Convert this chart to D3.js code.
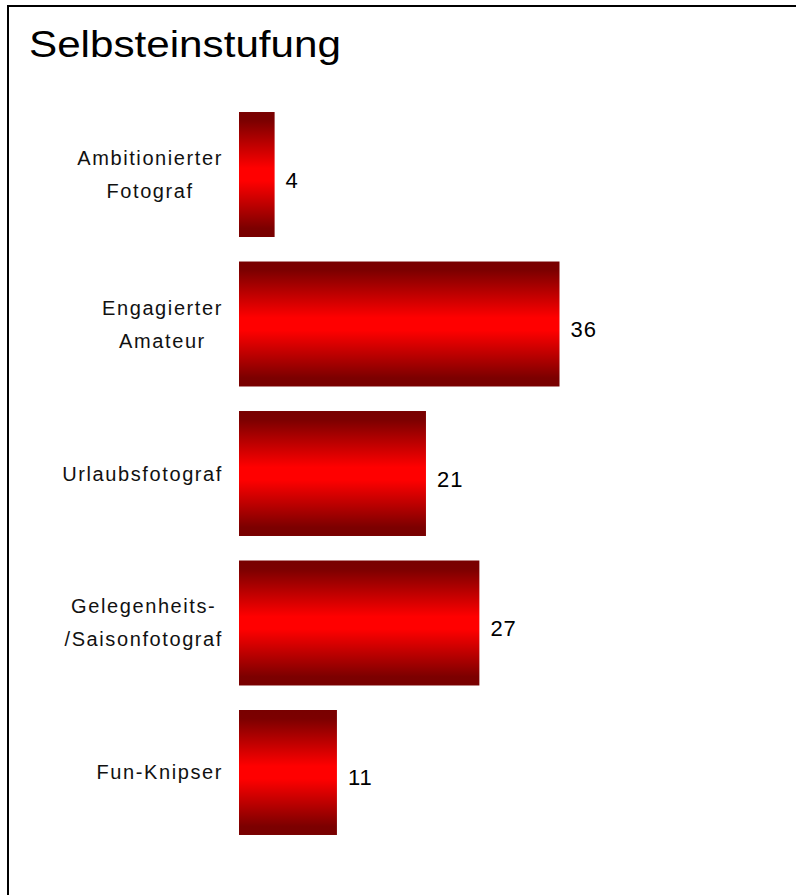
<!DOCTYPE html>
<html>
<head>
<meta charset="utf-8">
<script src="https://cdn.jsdelivr.net/npm/d3@7"></script>
<style>
  body { margin: 0; background: #fff; }
  svg { display: block; font-family: "Liberation Sans", Arial, sans-serif; }
</style>
</head>
<body>
<svg id="chart" width="796" height="895"></svg>
<script>
const titleText = "Selbsteinstufung";
const categories = [
    ["Ambitionierter", "Fotograf"],
    ["Engagierter", "Amateur"],
    ["Urlaubsfotograf"],
    ["Gelegenheits-", "/Saisonfotograf"],
    ["Fun-Knipser"]
];
const values = [4, 36, 21, 27, 11];

const svg = d3.select("#chart");

// frame (runs off the right and bottom edge)
svg.append("rect")
    .attr("x", 8)
    .attr("y", 6)
    .attr("width", 820)
    .attr("height", 920)
    .attr("fill", "#fff")
    .attr("stroke", "#000")
    .attr("stroke-width", 2);

svg.append("text")
    .attr("x", 29)
    .attr("y", 57)
    .style("font-size", "36px")
    .attr("textLength", 312)
    .attr("lengthAdjust", "spacingAndGlyphs")
    .attr("fill", "#000")
    .text(titleText);

// vertical gradient: dark edges, bright red middle
const defs = svg.append("defs");
const grad = defs.append("linearGradient")
    .attr("id", "barGrad")
    .attr("x1", 0).attr("y1", 0)
    .attr("x2", 0).attr("y2", 1);
[[0, "#780000"], [0.07, "#7c0000"], [0.45, "#ff0000"],
 [0.55, "#ff0000"], [0.93, "#7c0000"], [1, "#780000"]].forEach(s => {
    grad.append("stop").attr("offset", s[0]).attr("stop-color", s[1]);
});

const keys = categories.map((d, i) => i);

const y = d3.scaleBand()
    .domain(keys)
    .range([87.5, 859.5])
    .padding(0.164);

const x = d3.scaleLinear()
    .domain([0, 36])
    .range([239, 559.5]);

const g = svg.append("g");

g.selectAll("rect.bar")
    .data(values)
    .enter()
    .append("rect")
    .attr("class", "bar")
    .attr("x", x(0))
    .attr("y", (d, i) => y(i))
    .attr("width", d => x(d) - x(0))
    .attr("height", y.bandwidth())
    .attr("fill", "url(#barGrad)");

// value labels
g.selectAll("text.value")
    .data(values)
    .enter()
    .append("text")
    .attr("class", "value")
    .attr("x", d => x(d) + 11)
    .attr("y", (d, i) => y(i) + y.bandwidth() / 2 + 13)
    .style("font-size", "22px")
    .style("letter-spacing", "1px")
    .attr("fill", "#000")
    .text(d => d);

// category labels: block right-aligned, lines centered within block
const labelRight = 223;
const lineGap = 33;
categories.forEach((lines, i) => {
    const cy = y(i) + y.bandwidth() / 2;
    const block = g.append("g");
    const texts = lines.map((line, j) => block.append("text")
        .attr("y", cy + 7 + (j - (lines.length - 1) / 2) * lineGap)
        .attr("text-anchor", "middle")
        .style("font-size", "20px")
        .style("letter-spacing", "1.6px")
        .attr("fill", "#111")
        .text(line));
    const maxW = d3.max(texts, t => t.node().getComputedTextLength());
    texts.forEach(t => t.attr("x", labelRight - maxW / 2));
});
</script>
</body>
</html>
